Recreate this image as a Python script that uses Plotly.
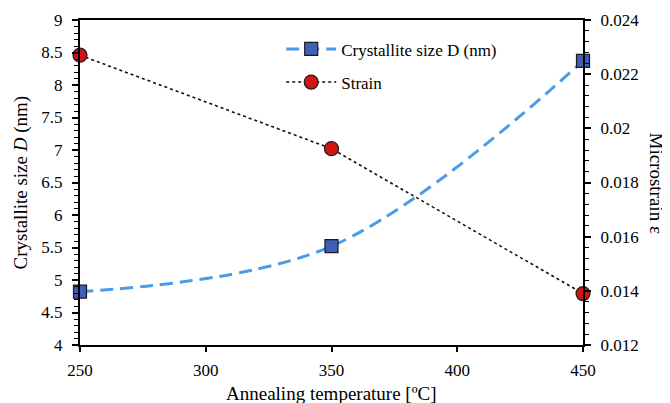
import plotly.graph_objects as go

temperature = [250, 350, 450]
crystallite_size = [4.82, 5.52, 8.37]
strain = [0.0227, 0.01925, 0.0139]

FONT = "Liberation Serif, Times New Roman, serif"

fig = go.Figure()
fig.add_trace(go.Scatter(
    x=temperature, y=crystallite_size, name="Crystallite size D (nm)",
    mode="lines+markers", legendgroup="a",
    line=dict(color="#4C9BE8", width=3, dash="13px,7px", shape="spline", smoothing=1),
    marker=dict(symbol="square", size=13, color="#3F5FB8", line=dict(color="#1a1a1a", width=1.2)),
    cliponaxis=False,
))
fig.add_trace(go.Scatter(
    x=temperature, y=strain, name="Strain", yaxis="y2", legendgroup="b",
    mode="lines+markers",
    line=dict(color="#111111", width=1.6, dash="dot"),
    marker=dict(symbol="circle", size=14, color="#D21414", line=dict(color="#1a1a1a", width=1.2)),
    cliponaxis=False,
))

fig.update_layout(
    width=662, height=395,
    margin=dict(l=72, r=87, t=12, b=58, autoexpand=False),
    paper_bgcolor="white", plot_bgcolor="white",
    font=dict(family=FONT, size=17, color="black"),
    showlegend=True,
    legend=dict(x=0.40, y=0.965, xanchor="left", yanchor="top",
                bgcolor="rgba(0,0,0,0)", font=dict(size=17, family=FONT),
                tracegroupgap=8, itemwidth=50),
    xaxis=dict(range=[250, 450], tick0=250, dtick=50, showgrid=False, zeroline=False,
               showline=True, linecolor="black", linewidth=2, mirror=True,
               ticks="outside", ticklen=5, tickwidth=1.5, tickcolor="black",
               ticklabelstandoff=4, automargin=False,
               tickfont=dict(size=17, family=FONT)),
    yaxis=dict(range=[4, 9], tick0=4, dtick=0.5, showgrid=False, zeroline=False,
               showline=True, linecolor="black", linewidth=2,
               ticks="outside", ticklen=6, tickwidth=1.5, tickcolor="black",
               ticklabelstandoff=6, automargin=False,
               minor=dict(dtick=0.1, ticks="outside", ticklen=4, tickwidth=1.2, tickcolor="black"),
               tickfont=dict(size=17, family=FONT)),
    yaxis2=dict(range=[0.012, 0.024], tick0=0.012, dtick=0.002, overlaying="y", side="right",
                showgrid=False, zeroline=False, showline=True, linecolor="black", linewidth=2,
                ticks="outside", ticklen=6, tickwidth=1.5, tickcolor="black",
                ticklabelstandoff=6, automargin=False,
                minor=dict(dtick=0.0004, ticks="outside", ticklen=4, tickwidth=1.2, tickcolor="black"),
                tickformat="~g", tickfont=dict(size=17, family=FONT)),
    annotations=[
        dict(text="Annealing temperature [ºC]", x=0.5, y=0, xref="paper", yref="paper",
             xanchor="center", yanchor="middle", yshift=-48, showarrow=False,
             font=dict(size=19, family=FONT)),
        dict(text="Crystallite size <i>D</i> (nm)", x=0, y=0.5, xref="paper", yref="paper",
             xanchor="center", yanchor="middle", xshift=-60, textangle=-90, showarrow=False,
             font=dict(size=19, family=FONT)),
        dict(text="Microstrain ε", x=1, y=0.5, xref="paper", yref="paper",
             xanchor="center", yanchor="middle", xshift=73, textangle=90, showarrow=False,
             font=dict(size=19, family=FONT)),
    ],
)

fig.write_html("out.html")
